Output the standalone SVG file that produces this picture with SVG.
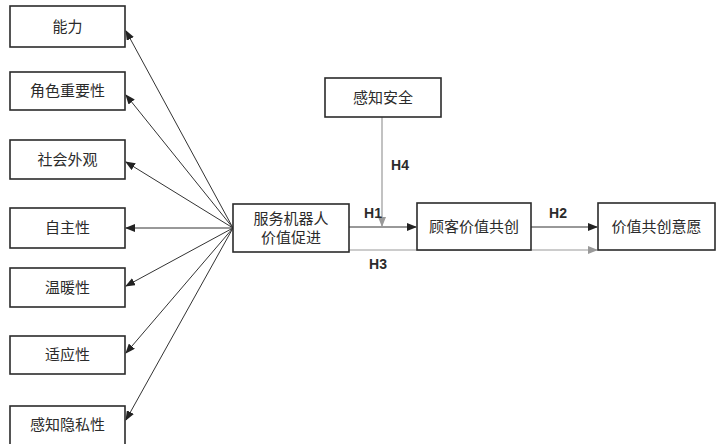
<svg xmlns="http://www.w3.org/2000/svg" width="720" height="444" viewBox="0 0 720 444">
<defs>
<style>
.box{fill:#fff;stroke:#2b2b2b;stroke-width:1.6}
.t{font-family:"Liberation Sans","Noto Sans CJK SC",sans-serif;font-size:15px;fill:#2b2b2b;text-anchor:middle}
.lab{font-family:"Liberation Sans",Arial,sans-serif;font-size:14px;font-weight:bold;fill:#2b2b2b;text-anchor:middle}
.c{stroke:#333;stroke-width:1;fill:none}
.g{stroke:#999;stroke-width:1.2;fill:none}
</style>
<marker id="ad" markerWidth="10" markerHeight="8" refX="9" refY="4" orient="auto" markerUnits="userSpaceOnUse"><path d="M0,0 L10,4 L0,8 Z" fill="#222"/></marker>
<marker id="ag" markerWidth="10" markerHeight="8" refX="9" refY="4" orient="auto" markerUnits="userSpaceOnUse"><path d="M0,0 L10,4 L0,8 Z" fill="#999"/></marker>
</defs>
<rect width="720" height="444" fill="#fff"/>
<g id="connectors">
<line class="c" x1="233" y1="228" x2="126" y2="31" marker-end="url(#ad)"/>
<line class="c" x1="233" y1="228" x2="126" y2="95" marker-end="url(#ad)"/>
<line class="c" x1="233" y1="228" x2="126" y2="162" marker-end="url(#ad)"/>
<line class="c" x1="233" y1="228" x2="126" y2="228" marker-end="url(#ad)"/>
<line class="c" x1="233" y1="228" x2="126" y2="286" marker-end="url(#ad)"/>
<line class="c" x1="233" y1="228" x2="126" y2="353" marker-end="url(#ad)"/>
<line class="c" x1="233" y1="228" x2="126" y2="420" marker-end="url(#ad)"/>
<line class="c" x1="349" y1="227" x2="416" y2="227" marker-end="url(#ad)"/>
<line class="c" x1="531" y1="227" x2="597" y2="227" marker-end="url(#ad)"/>
<line class="g" x1="382" y1="117" x2="382" y2="226" marker-end="url(#ag)"/>
<line class="g" x1="349" y1="250" x2="597" y2="250" marker-end="url(#ag)"/>
<text class="lab" x="373" y="218">H1</text>
<text class="lab" x="558" y="218">H2</text>
<text class="lab" x="378" y="269">H3</text>
<text class="lab" x="400" y="170">H4</text>
</g>
<g id="n1"><rect class="box" x="10" y="6" width="115" height="41"/><text class="t" x="67.5" y="32">能力</text></g>
<g id="n2"><rect class="box" x="10" y="72" width="115" height="38"/><text class="t" x="67.5" y="96">角色重要性</text></g>
<g id="n3"><rect class="box" x="10" y="140" width="115" height="39"/><text class="t" x="67.5" y="165">社会外观</text></g>
<g id="n4"><rect class="box" x="10" y="208" width="115" height="40"/><text class="t" x="67.5" y="233">自主性</text></g>
<g id="n5"><rect class="box" x="10" y="268" width="115" height="39"/><text class="t" x="67.5" y="293">温暖性</text></g>
<g id="n6"><rect class="box" x="10" y="336" width="115" height="38"/><text class="t" x="67.5" y="360">适应性</text></g>
<g id="n7"><rect class="box" x="10" y="406" width="115" height="40"/><text class="t" x="67.5" y="430">感知隐私性</text></g>
<g id="center"><rect class="box" x="233" y="204" width="116" height="48"/><text class="t" x="291" y="224">服务机器人</text><text class="t" x="291" y="243">价值促进</text></g>
<g id="safety"><rect class="box" x="325" y="78" width="116" height="39"/><text class="t" x="383" y="103">感知安全</text></g>
<g id="cocreate"><rect class="box" x="417" y="203" width="114" height="47"/><text class="t" x="474" y="232">顾客价值共创</text></g>
<g id="intent"><rect class="box" x="598" y="203" width="117" height="47"/><text class="t" x="656.5" y="232">价值共创意愿</text></g>
</svg>
